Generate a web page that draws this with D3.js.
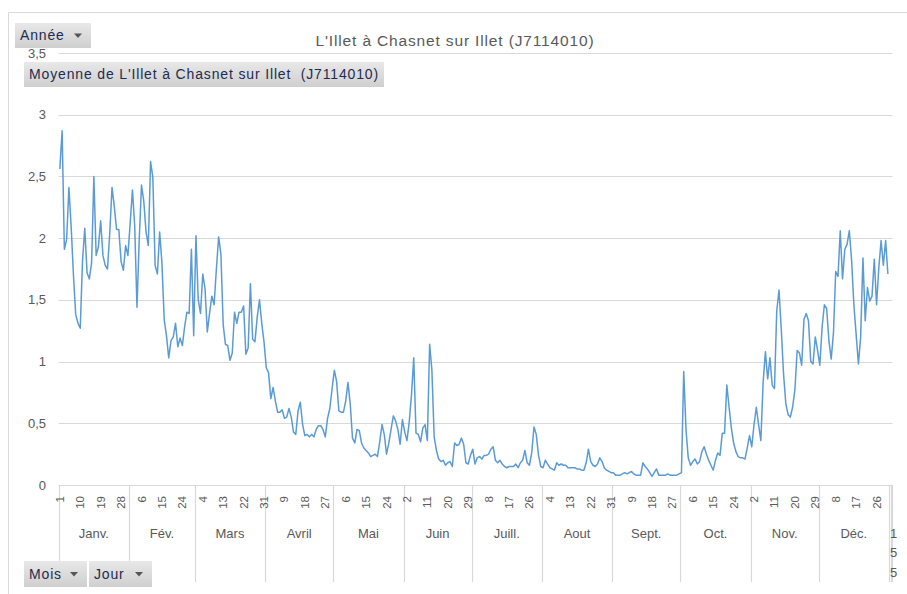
<!DOCTYPE html>
<html><head><meta charset="utf-8">
<script src="https://cdn.jsdelivr.net/npm/d3@7"></script>
<style>
body{margin:0;background:#fff;}
text{font-family:"Liberation Sans",Arial,sans-serif;}
</style></head>
<body>
<script>
// ---- data ----
const chartTitle = "L'Illet à Chasnet sur Illet (J7114010)";
const seriesName = "Moyenne de L'Illet à Chasnet sur Illet  (J7114010)";
const monthLabels = ["Janv.","Fév.","Mars","Avril","Mai","Juin","Juill.","Aout","Sept.","Oct.","Nov.","Déc."];
const monthLengths = [31,29,31,30,31,30,31,31,30,31,30,31];
const yTicks = [0,0.5,1,1.5,2,2.5,3,3.5];
const extraCategoryLabel = ["1","5","5"];

const janValues = [2.56,2.87,1.91,1.99,2.41,2.09,1.70,1.38,1.31,1.27,1.82,2.08,1.72,1.67,1.80,2.50,1.86,1.93,2.14,1.86,1.78,1.75,2.04,2.41,2.26,2.07,2.07,1.81,1.74,1.94,1.86];
const febValues = [2.12,2.39,2.10,1.44,1.99,2.43,2.30,2.05,1.94,2.62,2.49,1.78,1.71,2.05,1.80,1.34,1.21,1.03,1.17,1.20,1.31,1.12,1.19,1.13,1.28,1.40,1.39,1.91,1.21];
const marValues = [2.02,1.50,1.39,1.71,1.59,1.24,1.39,1.53,1.46,1.75,2.01,1.87,1.30,1.14,1.13,1.01,1.07,1.40,1.31,1.40,1.40,1.45,1.06,1.11,1.63,1.18,1.16,1.36,1.50,1.31,1.16];
const aprValues = [0.95,0.91,0.70,0.79,0.68,0.59,0.59,0.61,0.54,0.55,0.62,0.55,0.43,0.41,0.60,0.67,0.49,0.40,0.41,0.39,0.41,0.39,0.45,0.48,0.48,0.45,0.39,0.54,0.62,0.78];
const mayValues = [0.93,0.84,0.60,0.59,0.59,0.68,0.83,0.66,0.38,0.34,0.45,0.44,0.34,0.30,0.28,0.26,0.23,0.24,0.25,0.23,0.35,0.49,0.41,0.25,0.34,0.45,0.56,0.52,0.45,0.33,0.53];
const junValues = [0.43,0.36,0.51,0.73,1.03,0.42,0.41,0.35,0.46,0.49,0.36,1.14,0.93,0.39,0.28,0.21,0.19,0.20,0.16,0.18,0.19,0.15,0.34,0.32,0.33,0.38,0.33,0.18,0.17,0.24];
const julValues = [0.29,0.17,0.22,0.23,0.21,0.24,0.24,0.25,0.29,0.31,0.20,0.18,0.20,0.17,0.15,0.14,0.15,0.15,0.15,0.17,0.14,0.18,0.20,0.28,0.18,0.16,0.26,0.47,0.41,0.24,0.15];
const augValues = [0.14,0.20,0.17,0.14,0.13,0.12,0.18,0.16,0.17,0.16,0.16,0.14,0.14,0.14,0.14,0.13,0.13,0.12,0.12,0.18,0.29,0.19,0.16,0.15,0.17,0.22,0.19,0.14,0.12,0.11,0.10];
const sepValues = [0.10,0.08,0.08,0.08,0.09,0.10,0.09,0.10,0.11,0.09,0.08,0.08,0.08,0.18,0.15,0.13,0.10,0.07,0.10,0.13,0.08,0.08,0.08,0.08,0.09,0.08,0.08,0.08,0.08,0.09];
const octValues = [0.10,0.92,0.45,0.22,0.16,0.19,0.21,0.17,0.19,0.27,0.31,0.25,0.20,0.16,0.12,0.20,0.26,0.24,0.42,0.42,0.81,0.63,0.46,0.34,0.27,0.23,0.22,0.22,0.21,0.30,0.40];
const novValues = [0.31,0.49,0.63,0.49,0.36,0.83,1.08,0.86,1.03,0.81,0.78,1.41,1.58,1.26,0.90,0.66,0.57,0.55,0.63,0.77,1.09,1.07,0.97,1.34,1.39,1.33,1.00,0.98,1.20,1.09];
const decValues = [0.97,1.28,1.46,1.43,1.17,1.02,1.23,1.73,1.69,2.06,1.67,1.91,1.95,2.06,1.82,1.46,1.22,0.98,1.20,1.84,1.33,1.60,1.49,1.53,1.83,1.46,1.76,1.98,1.78,1.98,1.71];

const monthValues = [janValues,febValues,marValues,aprValues,mayValues,junValues,julValues,augValues,sepValues,octValues,novValues,decValues];

// build categories (day of month, month index)
const days = [];
monthValues.forEach((arr,m)=>arr.forEach((v,d)=>days.push({m, day:d+1, v})));
const nCats = days.length + 1; // one extra (empty) category at the end

// ---- drawing ----
const W=907,H=594;
const svg=d3.select("body").append("svg").attr("width",W).attr("height",H);
const grey="#d9d9d9", txt="#595959";

// chart border
svg.append("line").attr("x1",8.5).attr("x2",W).attr("y1",12.5).attr("y2",12.5).attr("stroke",grey);
svg.append("line").attr("x1",8.5).attr("x2",8.5).attr("y1",12.5).attr("y2",H).attr("stroke",grey);

const x=d3.scaleBand().domain(d3.range(nCats)).range([58.7,891.3]).paddingInner(0).paddingOuter(0);
const y=d3.scaleLinear().domain([0,3.5]).range([485,53]);
const plotRight=892.5;

// gridlines
svg.append("g").selectAll("line").data(yTicks).join("line")
  .attr("x1",58.7).attr("x2",plotRight)
  .attr("y1",d=>Math.round(y(d))+0.5).attr("y2",d=>Math.round(y(d))+0.5)
  .attr("stroke",grey).attr("stroke-width",1.2);

// y labels
svg.append("g").selectAll("text").data(yTicks).join("text")
  .attr("x",46).attr("y",d=>y(d)).attr("dy","0.35em").attr("text-anchor","end")
  .attr("font-size",13).attr("fill",txt)
  .text(d=>String(d).replace(".",","));

// month boundaries
const bounds=[0];
monthLengths.forEach(l=>bounds.push(bounds[bounds.length-1]+l));
const sepX = bounds.map(b=> b<nCats ? x(b) : x.range()[1]);
sepX.push(x.range()[1]);
svg.append("g").selectAll("line").data(sepX).join("line")
  .attr("x1",d=>Math.round(d)+0.5).attr("x2",d=>Math.round(d)+0.5)
  .attr("y1",485).attr("y2",582).attr("stroke",grey).attr("stroke-width",1.2);
// extra category right edge
svg.append("line").attr("x1",plotRight).attr("x2",plotRight).attr("y1",485).attr("y2",582).attr("stroke",grey).attr("stroke-width",1.2);

// day tick labels every 9 days
const tickIdx = d3.range(0,days.length,9);
svg.append("g").selectAll("text").data(tickIdx).join("text")
  .attr("transform",i=>`translate(${x(i)+x.bandwidth()/2},496) rotate(-90)`)
  .attr("dy","0.35em").attr("text-anchor","end")
  .attr("font-size",11.5).attr("fill",txt)
  .text(i=>days[i].day);

// month labels
svg.append("g").selectAll("text").data(monthLabels).join("text")
  .attr("x",(d,i)=>(x(bounds[i]) + x(bounds[i+1]-1)+x.bandwidth())/2)
  .attr("y",533).attr("dy","0.35em").attr("text-anchor","middle")
  .attr("font-size",13).attr("fill",txt).text(d=>d);

// extra category wrapped label
svg.append("g").selectAll("text").data(extraCategoryLabel).join("text")
  .attr("x",890).attr("y",(d,i)=>533+i*19.5).attr("dy","0.35em")
  .attr("font-size",13).attr("fill",txt).text(d=>d);

// line
const line=d3.line().x((d,i)=>x(i)+x.bandwidth()/2).y(d=>y(d.v));
svg.append("path").datum(days).attr("d",line).attr("fill","none")
  .attr("stroke","#5b9bd5").attr("stroke-width",1.5).attr("stroke-linejoin","round");

// title
svg.append("text").attr("x",455).attr("y",41).attr("dy","0.35em").attr("text-anchor","middle")
  .attr("font-size",15.5).attr("letter-spacing",0.85).attr("fill",txt).text(chartTitle);

// pivot buttons
const defs=svg.append("defs");
const grad=defs.append("linearGradient").attr("id","btn").attr("x1",0).attr("x2",0).attr("y1",0).attr("y2",1);
grad.append("stop").attr("offset","0%").attr("stop-color","#e8e8e8");
grad.append("stop").attr("offset","100%").attr("stop-color","#cfcfcf");

function button(x0,y0,w,h,label,arrow){
  const g=svg.append("g");
  g.append("rect").attr("x",x0).attr("y",y0).attr("width",w).attr("height",h).attr("fill","url(#btn)");
  g.append("text").attr("x",x0+5).attr("y",y0+h/2).attr("dy","0.35em").attr("font-size",14)
    .attr("letter-spacing",0.85).style("white-space","pre")
    .attr("fill","#1f2a50").text(label);
  if(arrow){
    const ax=x0+w-13, ay=y0+h/2;
    g.append("path").attr("d",`M${ax-4},${ay-2}L${ax+4},${ay-2}L${ax},${ay+2.5}Z`).attr("fill","#555");
  }
}
button(15,23,76,25,"Année",true);
button(24,62,360,25,seriesName,false);
button(24,561,63,26,"Mois",true);
button(89,561,63,26,"Jour",true);
</script>
</body></html>
